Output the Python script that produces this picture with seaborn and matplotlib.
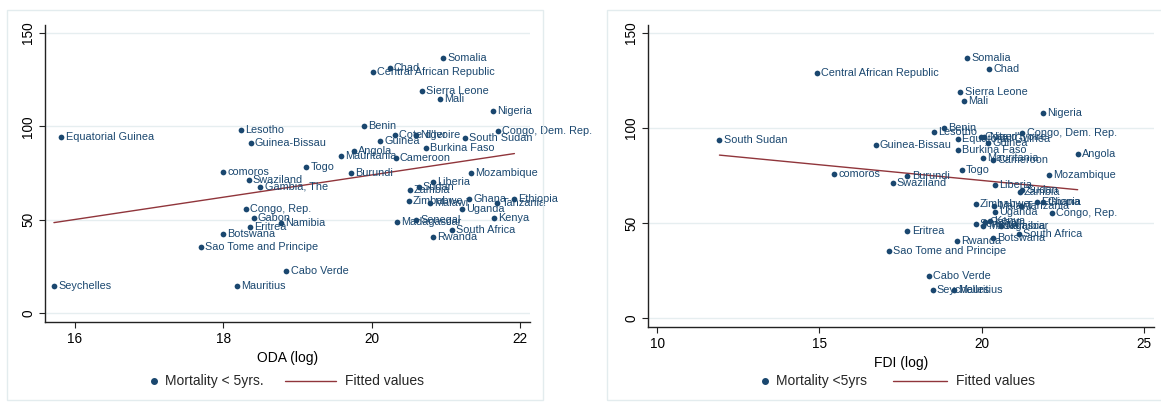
import numpy as np
import pandas as pd
import matplotlib
matplotlib.use("Agg")
import matplotlib.pyplot as plt
import seaborn as sns
from matplotlib.lines import Line2D
from matplotlib.patches import Rectangle

countries = ["Somalia", "Chad", "Central African Republic", "Sierra Leone", "Mali",
             "Nigeria", "Benin", "Lesotho", "Congo, Dem. Rep.", "Equatorial Guinea",
             "Cote d'Ivoire", "Niger", "South Sudan", "Guinea", "Guinea-Bissau",
             "Burkina Faso", "Angola", "Mauritania", "Cameroon", "Togo",
             "comoros", "Burundi", "Mozambique", "Swaziland", "Liberia",
             "Gambia, The", "Sudan", "Zambia", "Ghana", "Ethiopia",
             "Zimbabwe", "Malawi", "Tanzania", "Uganda", "Congo, Rep.",
             "Kenya", "Gabon", "Senegal", "Madagascar", "Namibia",
             "Eritrea", "South Africa", "Botswana", "Rwanda", "Sao Tome and Principe",
             "Cabo Verde", "Seychelles", "Mauritius"]

mortality = [136.8, 131.0, 128.9, 118.9, 114.4,
             108.1, 100.3, 97.9, 97.6, 94.1,
             95.5, 95.3, 93.9, 92.3, 91.2,
             88.6, 86.6, 84.0, 83.3, 78.0,
             75.8, 74.8, 75.1, 71.2, 70.2,
             67.7, 67.4, 66.1, 61.1, 61.2,
             60.0, 59.0, 59.0, 55.9, 55.5,
             51.0, 50.7, 49.7, 48.6, 48.4,
             45.9, 44.4, 42.2, 40.5, 35.4,
             22.3, 14.5, 14.5]

oda_log = [20.96, 20.24, 20.01, 20.68, 20.92,
           21.63, 19.89, 18.24, 21.70, 15.82,
           20.31, 20.60, 21.25, 20.11, 18.37,
           20.73, 19.76, 19.58, 20.32, 19.12,
           18.00, 19.72, 21.34, 18.34, 20.82,
           18.50, 20.63, 20.51, 21.31, 21.92,
           20.50, 20.78, 21.69, 21.22, 18.30,
           21.64, 18.41, 20.60, 20.34, 18.78,
           18.36, 21.08, 18.00, 20.82, 17.70,
           18.85, 15.72, 18.18]

fdi_log = [19.54, 20.22, 14.91, 19.34, 19.44,
           21.87, 18.82, 18.54, 21.25, 19.26,
           19.98, 20.08, 11.92, 20.20, 16.73,
           19.26, 22.95, 20.04, 20.35, 19.38,
           15.45, 17.71, 22.08, 17.25, 20.40,
           None, 21.25, 21.17, 21.89, 21.69,
           19.81, 20.38, 21.21, 20.40, 22.15,
           20.25, 20.10, 19.81, 20.05, 20.60,
           17.71, 21.15, 20.35, 19.22, 17.14,
           18.38, 18.48, 19.15]

NAVY = "#1a476f"
MAROON = "#90353b"
GRID = "#e6eef0"

df = pd.DataFrame({"country": countries, "mort": mortality,
                   "oda": oda_log, "fdi": pd.to_numeric(pd.Series(fdi_log), errors="coerce")})

sns.set_theme(style="white")
plt.rcParams['font.family'] = ['Liberation Sans', 'DejaVu Sans']

W, H = 1161, 412
fig = plt.figure(figsize=(W / 100, H / 100), dpi=100)

# outer panel frames
for (x0, x1, y0, y1) in [(7, 543, 10, 400), (607, 1166, 10, 400)]:
    fig.patches.append(Rectangle((x0 / W, 1 - y1 / H), (x1 - x0) / W, (y1 - y0) / H,
                                 transform=fig.transFigure, fill=False,
                                 edgecolor="#e3ecee", lw=1.0))

def fx(px):
    return px / W

def fy(py):
    return 1 - py / H

axL = fig.add_axes([fx(45), fy(322), fx(530) - fx(45), fy(25) - fy(322)])
axR = fig.add_axes([fx(648), fy(327), fx(1154) - fx(648), fy(25) - fy(327)])

panels = [
    (axL, "oda", "ODA (log)", (15.6, 22.13), [16, 18, 20, 22], "Mortality < 5yrs.",
     (154, 381), (285, 336)),
    (axR, "fdi", "FDI (log)", (9.72, 25.3), [10, 15, 20, 25], "Mortality <5yrs",
     (765, 381), (893, 947)),
]

for ax, col, xlabel, xlim, xticks, leg1, mpos, lpos in panels:
    d = df.dropna(subset=[col])
    sns.regplot(data=d, x=col, y="mort", ax=ax, scatter=False, ci=None, truncate=True,
                line_kws=dict(color=MAROON, lw=1.0))
    sns.scatterplot(data=d, x=col, y="mort", ax=ax, color=NAVY, s=17,
                    edgecolor=NAVY, linewidth=0, zorder=3, legend=False)
    for _, r in d.iterrows():
        ax.annotate(r["country"], (r[col], r["mort"]), xytext=(3, 0),
                    textcoords="offset points", va="center", ha="left",
                    fontsize=7.85, color=NAVY, zorder=4)
    ax.set_xlim(*xlim)
    ax.set_ylim(-4.8, 154.3)
    ax.set_xticks(xticks)
    ax.set_yticks([0, 50, 100, 150])
    ax.set_yticklabels(["0", "50", "100", "150"])
    for lbl in ax.get_yticklabels():
        lbl.set_rotation(90)
        lbl.set_va("center")
        lbl.set_ha("right")
    for yv in [0, 50, 100, 150]:
        ax.axhline(yv, color=GRID, lw=1.0, zorder=0)
    ax.set_xlabel(xlabel, fontsize=10, color="black", labelpad=4)
    ax.set_ylabel("")
    for s in ["top", "right"]:
        ax.spines[s].set_visible(False)
    for s in ["left", "bottom"]:
        ax.spines[s].set_color("#222222")
        ax.spines[s].set_linewidth(1.0)
    ax.tick_params(axis="both", direction="out", length=4, width=0.8, color="#222222",
                   labelsize=9.8, labelcolor="black", pad=3, bottom=True, left=True)
    ax.grid(False)
    ax.set_facecolor("white")

    # legend below panel
    fig.lines.append(Line2D([fx(mpos[0])], [fy(mpos[1])], transform=fig.transFigure,
                            marker="o", markersize=4, color=NAVY, linestyle="none"))
    fig.text(fx(mpos[0] + 11), fy(mpos[1]), leg1, fontsize=10, va="center", ha="left")
    fig.lines.append(Line2D([fx(lpos[0]), fx(lpos[1])], [fy(mpos[1]), fy(mpos[1])],
                            transform=fig.transFigure, color=MAROON, lw=1.0))
    fig.text(fx(lpos[1] + 9), fy(mpos[1]), "Fitted values", fontsize=10, va="center", ha="left")

fig.savefig("out.png", dpi=100, facecolor="white")
